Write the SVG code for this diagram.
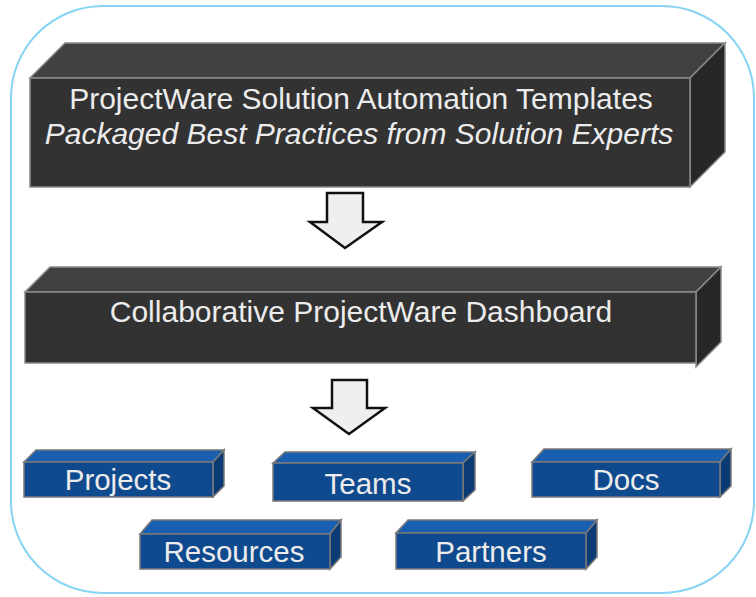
<svg xmlns="http://www.w3.org/2000/svg" width="756" height="597" viewBox="0 0 756 597">
<style>
.t{font-family:"Liberation Sans",Arial,sans-serif;fill:#ececec;text-anchor:middle}
.dk .f{fill:#323232;stroke:#8a8a8a;stroke-width:1.5}
.dk .tp{fill:#414141;stroke:#8a8a8a;stroke-width:1.5}
.dk .sd{fill:#272727;stroke:#8a8a8a;stroke-width:1.5}
.bl .f{fill:#0f4a8e;stroke:#7a7a7a;stroke-width:1.5}
.bl .tp{fill:#1a5eb0;stroke:#7a7a7a;stroke-width:1.5}
.bl .sd{fill:#0a3b74;stroke:#7a7a7a;stroke-width:1.5}
.ar{fill:#efefef;stroke:#111;stroke-width:2.5;stroke-linejoin:miter}
</style>
<rect x="11" y="6" width="743" height="587" rx="92" ry="92" fill="#fff" stroke="#86d3f3" stroke-width="2"/>
<g id="templates" class="dk">
<polygon class="tp" points="30,78 65,43 725,43 690,78"/>
<polygon class="sd" points="690,78 725,43 725,152 690,187"/>
<rect class="f" x="30" y="78" width="660" height="109"/>
<text class="t" x="361" y="109" font-size="30">ProjectWare Solution Automation Templates</text>
<text class="t" x="359" y="144" font-size="30" font-style="italic">Packaged Best Practices from Solution Experts</text>
</g>
<g id="dashboard" class="dk">
<polygon class="tp" points="25,292 50,267 721,267 696,292"/>
<polygon class="sd" points="696,292 721,267 721,342 696,367"/>
<rect class="f" x="25" y="292" width="671" height="71"/>
<text class="t" x="361" y="322" font-size="30">Collaborative ProjectWare Dashboard</text>
</g>
<g id="connectors">
<polygon class="ar" points="327,193 363,193 363,222 382,222 345,248 310,222 327,222"/>
<polygon class="ar" points="332,380 367,380 367,408 385,408 349,434 313,408 332,408"/>
</g>
<g id="projects" class="bl">
<polygon class="tp" points="24,462 36,450 224,450 213,462"/>
<polygon class="sd" points="213,462 224,450 224,486 213,497"/>
<rect class="f" x="24" y="462" width="189" height="35"/>
<text class="t" x="118" y="490" font-size="29.5">Projects</text>
</g>
<g id="teams" class="bl">
<polygon class="tp" points="273,463 285,452 475,452 463,463"/>
<polygon class="sd" points="463,463 475,452 475,490 463,501"/>
<rect class="f" x="273" y="463" width="190" height="38"/>
<text class="t" x="368" y="494" font-size="29.5">Teams</text>
</g>
<g id="docs" class="bl">
<polygon class="tp" points="532,462 544,449 731,449 720,462"/>
<polygon class="sd" points="720,462 731,449 731,486 720,497"/>
<rect class="f" x="532" y="462" width="188" height="35"/>
<text class="t" x="626" y="490" font-size="29.5">Docs</text>
</g>
<g id="resources" class="bl">
<polygon class="tp" points="140,534 152,520 341,520 330,534"/>
<polygon class="sd" points="330,534 341,520 341,557 330,569"/>
<rect class="f" x="140" y="534" width="190" height="35"/>
<text class="t" x="234" y="562" font-size="29.5">Resources</text>
</g>
<g id="partners" class="bl">
<polygon class="tp" points="396,533 408,520 597,520 586,533"/>
<polygon class="sd" points="586,533 597,520 597,557 586,569"/>
<rect class="f" x="396" y="533" width="190" height="36"/>
<text class="t" x="491" y="562" font-size="29.5">Partners</text>
</g>
</svg>
